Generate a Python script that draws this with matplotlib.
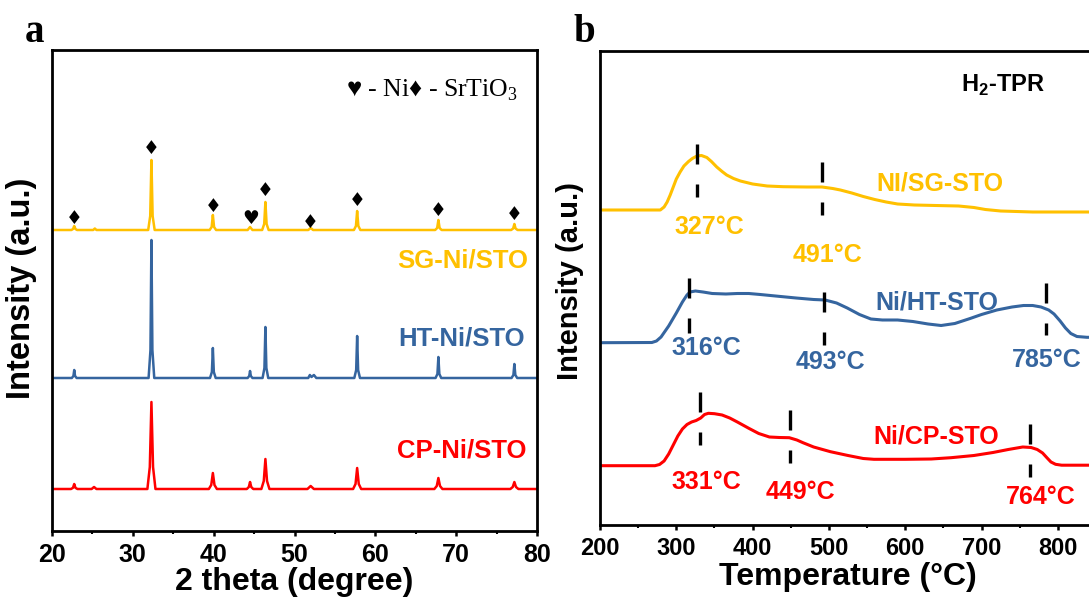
import matplotlib.pyplot as plt
from matplotlib.ticker import MultipleLocator

plt.rcParams['font.family'] = ['Liberation Sans', 'DejaVu Sans']
plt.rcParams['font.weight'] = 'bold'
plt.rcParams['mathtext.fontset'] = 'custom'
plt.rcParams['mathtext.rm'] = 'Liberation Serif:weight=normal'
plt.rcParams['mathtext.bf'] = 'Liberation Sans:bold'

YEL = '#FFC000'
BLU = '#35659F'
RED = '#FF0000'

# ---------------- panel a : XRD ----------------
sg_2theta = [20, 22.4, 22.6, 22.75, 22.9, 23.1, 25.1, 25.3, 25.5,
             31.9, 32.15, 32.3, 32.45, 32.7, 39.5, 39.75, 39.9, 40.05, 40.3,
             44.2, 44.5, 44.8, 46.0, 46.25, 46.4, 46.55, 46.8, 51.7, 52.0, 52.3,
             57.35, 57.6, 57.75, 57.9, 58.15, 67.4, 67.65, 67.8, 67.95, 68.2,
             76.8, 77.05, 77.2, 77.35, 77.6, 80]
sg_int = [0, 0, 1, 4, 1, 0, 0, 1.5, 0,
          0, 14, 70, 14, 0, 0, 3, 15, 3, 0,
          0, 3, 0, 0, 6, 28, 6, 0, 0, 2, 0,
          0, 4, 19, 4, 0, 0, 2, 10, 2, 0,
          0, 1.5, 6, 1.5, 0, 0]

ht_2theta = [20, 22.45, 22.65, 22.75, 22.85, 23.05,
             31.95, 32.18, 32.3, 32.42, 32.65, 39.55, 39.78, 39.9, 40.02, 40.25,
             44.2, 44.4, 44.5, 44.6, 44.8, 46.05, 46.28, 46.4, 46.52, 46.75,
             51.7, 51.9, 52.1, 52.4, 52.7, 57.4, 57.63, 57.75, 57.87, 58.1,
             67.45, 67.68, 67.8, 67.92, 68.15, 76.85, 77.08, 77.2, 77.32, 77.55, 80]
ht_int = [0, 0, 2, 8, 2, 0,
          0, 28, 138, 28, 0, 0, 6, 30, 6, 0,
          0, 2, 7, 2, 0, 0, 10, 51, 10, 0,
          0, 3, 1, 3, 0, 0, 8, 42, 8, 0,
          0, 4, 21, 4, 0, 0, 3, 14, 3, 0, 0]

cp_2theta = [20, 22.35, 22.6, 22.75, 22.9, 23.15, 24.9, 25.2, 25.5,
             31.8, 32.1, 32.3, 32.5, 32.8, 39.4, 39.7, 39.9, 40.1, 40.4,
             44.1, 44.35, 44.5, 44.65, 44.9, 45.9, 46.2, 46.4, 46.6, 46.9,
             51.6, 52.0, 52.4, 57.25, 57.55, 57.75, 57.95, 58.25,
             67.3, 67.6, 67.8, 68.0, 68.3, 76.7, 77.0, 77.2, 77.4, 77.7, 80]
cp_int = [0, 0, 1.2, 5, 1.2, 0, 0, 2, 0,
          0, 22, 87, 22, 0, 0, 4, 16, 4, 0,
          0, 2, 7, 2, 0, 0, 8, 30, 8, 0,
          0, 3, 0, 0, 5, 21, 5, 0,
          0, 3, 11, 3, 0, 0, 2, 7, 2, 0, 0]

# stacking offsets
sg_off, ht_off, cp_off = 301, 153, 42

# phase markers
srtio3_pos = [22.75, 32.3, 39.9, 46.4, 52.0, 57.75, 67.8, 77.2]
srtio3_y = [312, 383, 324, 340, 309, 331, 320, 316]
ni_pos = [44.6]
ni_y = [312]

# ---------------- panel b : H2-TPR ----------------
sg_T = [200, 279, 284, 288, 292, 296, 300, 305, 310, 316, 321, 327, 333, 340,
        346, 353, 360, 366, 375, 384, 400, 419, 440, 471, 491, 505, 515, 530,
        545, 560, 575, 590, 612, 640, 670, 690, 705, 725, 767, 850]
sg_y = [315, 315, 318, 323, 330, 338, 346, 353, 359, 363.5, 366.5, 369, 369.5,
        367.5, 363.5, 358, 353.5, 350, 346.5, 344, 341, 339, 338.3, 338, 338,
        336.5, 335, 332, 328.5, 325.5, 323, 321, 320, 319.5, 319, 317.5, 315.5,
        314, 313, 313]

ht_T = [200, 268, 274, 280, 290, 300, 308, 314, 318, 325, 335, 347, 365, 380,
        395, 410, 430, 457, 480, 495, 510, 524, 540, 555, 570, 590, 610, 630,
        647, 665, 685, 700, 720, 740, 755, 767, 778, 788, 795, 803, 810, 817,
        825, 838, 850]
ht_y = [182.3, 182.5, 184, 188, 199, 212, 223, 230, 233, 234, 233, 231.5, 231,
        231.5, 231.5, 230.5, 229, 227, 225.5, 225, 222, 217, 210.5, 206, 205,
        205, 203.5, 201, 199.5, 201.5, 206.5, 210.5, 215, 218, 219.5, 219.5,
        218, 215, 211, 204, 197, 191.5, 188.5, 187.7, 187.7]

cp_T = [200, 272, 278, 284, 290, 296, 302, 308, 314, 320, 326, 332, 337, 342,
        350, 360, 370, 380, 395, 408, 422, 435, 448, 458, 466, 480, 502, 525,
        545, 559, 600, 634, 660, 690, 715, 735, 754, 765, 773, 780, 786, 791,
        797, 805, 850]
cp_y = [59.3, 59.3, 60.5, 64, 71, 80, 89, 96, 100.5, 103, 104.5, 107, 110.5,
        111.7, 111.3, 110, 107, 103, 96.7, 91.5, 88, 87.5, 87.3, 85, 82.3, 78,
        73.3, 69.5, 66.5, 65.7, 65.7, 66, 67.3, 69.5, 72.5, 75.5, 78, 77.5,
        75.5, 72, 67, 63, 60.7, 59.8, 59.8]

sg_peaks = [327, 491]
ht_peaks = [316, 493, 785]
cp_peaks = [331, 449, 764]

# dash extents (top, bottom) and label anchors
sg_dash = [(381, 328), (363, 310)]
ht_dash = [(247, 192), (233, 180), (242, 190)]
cp_dash = [(133, 80), (115, 62), (101, 48)]
sg_lab = [(343.5, 298), (498, 270)]
ht_lab = [(340, 177), (501.5, 163), (785.7, 165)]
cp_lab = [(340, 43), (463, 33), (778, 28)]

fig = plt.figure(figsize=(10.89, 5.97), dpi=100)
axa = fig.add_axes([52 / 1089, 66 / 597, 485 / 1089, 481 / 597])
axb = fig.add_axes([600 / 1089, 72 / 597, 496 / 1089, 474 / 597])

for ax in (axa, axb):
    for s in ax.spines.values():
        s.set_linewidth(2.0)
    ax.set_yticks([])
    ax.tick_params(axis='x', which='major', direction='out', length=3.5,
                   width=1.8, pad=5, labelsize=18)
    ax.tick_params(axis='x', which='minor', direction='out', length=2.5,
                   width=1.5)

# panel a
axa.plot(sg_2theta, [v + sg_off for v in sg_int], color=YEL, lw=1.8)
axa.plot(ht_2theta, [v + ht_off for v in ht_int], color=BLU, lw=1.8)
axa.plot(cp_2theta, [v + cp_off for v in cp_int], color=RED, lw=1.8)
for x, y in zip(srtio3_pos, srtio3_y):
    axa.text(x, y, '\u2666', fontsize=13.5, family='DejaVu Sans',
             ha='center', va='center')
for x, y in zip(ni_pos, ni_y):
    axa.text(x, y, '\u2665', fontsize=13.5, family='DejaVu Sans',
             ha='center', va='center')
axa.set_xlim(20, 80)
axa.set_ylim(0, 481)
axa.xaxis.set_major_locator(MultipleLocator(10))
axa.xaxis.set_minor_locator(MultipleLocator(5))
axa.set_xlabel('2 theta (degree)', fontsize=23, fontweight='bold')
axa.xaxis.set_label_coords(0.5, -0.075)
axa.xaxis.label.set_va('top')
axa.set_ylabel('Intensity (a.u.)', fontsize=23.5, fontweight='bold')
axa.yaxis.set_label_coords(-0.031, 0.505)
axa.text(0.961, 0.917, '\u2665 - Ni\u2666 - SrTiO$_3$', transform=axa.transAxes,
         ha='right', va='center', fontsize=18.5, fontweight='normal',
         family=['Liberation Serif', 'DejaVu Sans'])
axa.text(0.981, 0.563, 'SG-Ni/STO', color=YEL, transform=axa.transAxes,
         ha='right', va='center', fontsize=18.5, fontweight='bold')
axa.text(0.975, 0.401, 'HT-Ni/STO', color=BLU, transform=axa.transAxes,
         ha='right', va='center', fontsize=18.5, fontweight='bold')
axa.text(0.979, 0.168, 'CP-Ni/STO', color=RED, transform=axa.transAxes,
         ha='right', va='center', fontsize=18.5, fontweight='bold')

# panel b
axb.plot(sg_T, sg_y, color=YEL, lw=2.2)
axb.plot(ht_T, ht_y, color=BLU, lw=2.2)
axb.plot(cp_T, cp_y, color=RED, lw=2.2)
for peaks, dash, lab, col in ((sg_peaks, sg_dash, sg_lab, YEL),
                              (ht_peaks, ht_dash, ht_lab, BLU),
                              (cp_peaks, cp_dash, cp_lab, RED)):
    for t, (top, bot), (lx, ly) in zip(peaks, dash, lab):
        axb.plot([t, t], [top, bot], color='k', lw=2.4, ls=(0, (6, 6)))
        axb.text(lx, ly, f'{t}\u00b0C', color=col, ha='center', va='center',
                 fontsize=18, fontweight='bold')
axb.text(646, 342, 'NI/SG-STO', color=YEL, ha='center', va='center',
         fontsize=18, fontweight='bold')
axb.text(641, 223, 'Ni/HT-STO', color=BLU, ha='center', va='center',
         fontsize=18, fontweight='bold')
axb.text(641, 89, 'Ni/CP-STO', color=RED, ha='center', va='center',
         fontsize=18, fontweight='bold')
axb.text(728, 440, r'H$_\mathbf{2}$-TPR', ha='center', va='center',
         fontsize=17, fontweight='bold')
axb.set_xlim(200, 850)
axb.set_ylim(0, 474)
axb.xaxis.set_major_locator(MultipleLocator(100))
axb.xaxis.set_minor_locator(MultipleLocator(50))
axb.tick_params(axis='x', which='major', labelsize=17)
axb.set_xlabel('Temperature (\u00b0C)', fontsize=23, fontweight='bold')
axb.xaxis.set_label_coords(0.5, -0.078)
axb.xaxis.label.set_va('top')
axb.set_ylabel('Intensity (a.u.)', fontsize=21, fontweight='bold')
axb.yaxis.set_label_coords(-0.032, 0.515)

fig.text(25 / 1089, 1 - 41.7 / 597, 'a', fontsize=28, fontweight='bold',
         family='Liberation Serif', ha='left', va='baseline')
fig.text(573.5 / 1089, 1 - 41.7 / 597, 'b', fontsize=28, fontweight='bold',
         family='Liberation Serif', ha='left', va='baseline')

fig.savefig('out.png', dpi=100)
